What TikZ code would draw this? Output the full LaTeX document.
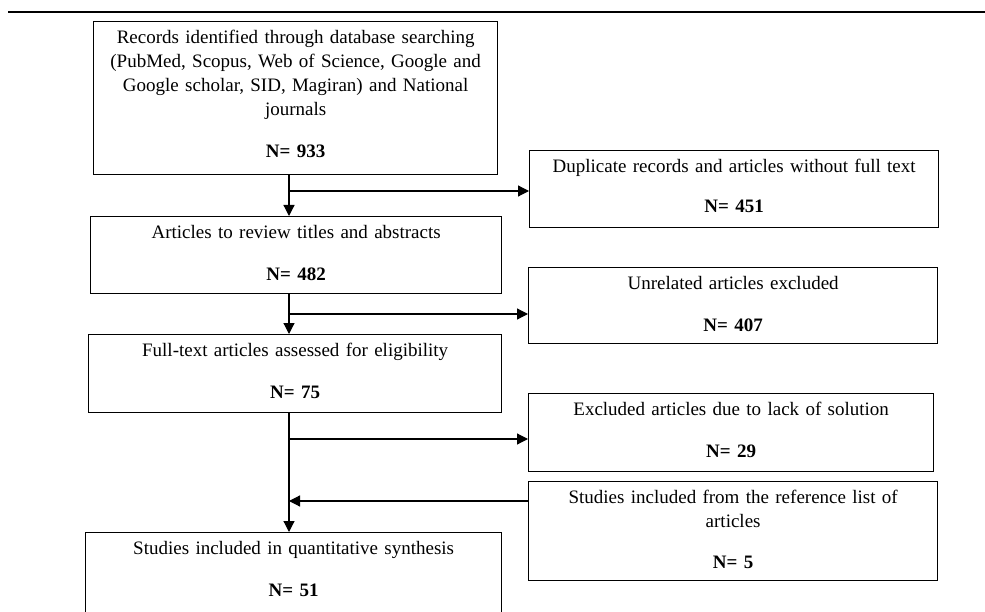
\documentclass[tikz,border=0pt]{standalone}
\usepackage{fontspec}
\setmainfont{Liberation Serif}
\usetikzlibrary{arrows.meta}

\tikzset{
  flowbox/.style={draw, line width=1.3pt, anchor=north west,
    inner xsep=0pt, inner ysep=0pt, align=center, text height=22pt,
    font=\fontsize{19}{24}\selectfont},
  flowline/.style={line width=1.2pt},
  flowarrow/.style={flowline, -{Triangle[length=11pt,width=11pt]}}
}

\begin{document}
\begin{tikzpicture}[x=1pt,y=-1pt]
  \useasboundingbox (0,0) rectangle (985,612);
  % rule at the top
  \draw[line width=2pt] (8,12) -- (985,12);

  % main column
  \node[flowbox, text width=404pt, text depth=131pt] (records) at (93,21)
    {Records identified through database searching\\
     (PubMed, Scopus, Web of Science, Google and\\
     Google scholar, SID, Magiran) and National\\
     journals\\[18pt]
     \textbf{N= 933}};
  \node[flowbox, text width=411pt, text depth=55pt] (screen) at (90,216)
    {Articles to review titles and abstracts\\[18pt]
     \textbf{N= 482}};
  \node[flowbox, text width=413pt, text depth=56pt] (fulltext) at (88,334)
    {Full-text articles assessed for eligibility\\[18pt]
     \textbf{N= 75}};
  \node[flowbox, text width=416pt, text depth=78pt] (included) at (85,532)
    {Studies included in quantitative synthesis\\[18pt]
     \textbf{N= 51}};

  % side column
  \node[flowbox, text width=409pt, text depth=55pt] (duplicates) at (529,150)
    {Duplicate records and articles without full text\\[16pt]
     \textbf{N= 451}};
  \node[flowbox, text width=409pt, text depth=54pt] (unrelated) at (528,267)
    {Unrelated articles excluded\\[18pt]
     \textbf{N= 407}};
  \node[flowbox, text width=405pt, text depth=56pt] (nosolution) at (528,393)
    {Excluded articles due to lack of solution\\[18pt]
     \textbf{N= 29}};
  \node[flowbox, text width=409pt, text depth=77pt] (reflist) at (528,481)
    {Studies included from the reference list of\\
     articles\\[17pt]
     \textbf{N= 5}};

  % connectors
  \coordinate (trunk) at (289,0);
  \coordinate (split1) at (289,191);
  \coordinate (split2) at (289,314);
  \coordinate (split3) at (289,439);
  \coordinate (join) at (289,501);

  \draw[flowarrow] (records.south -| trunk) -- (screen.north -| trunk);
  \draw[flowarrow] (split1) -- (split1 -| duplicates.west);
  \draw[flowarrow] (screen.south -| trunk) -- (fulltext.north -| trunk);
  \draw[flowarrow] (split2) -- (split2 -| unrelated.west);
  \draw[flowarrow] (fulltext.south -| trunk) -- (included.north -| trunk);
  \draw[flowarrow] (split3) -- (split3 -| nosolution.west);
  \draw[flowarrow] (join -| reflist.west) -- (join);
\end{tikzpicture}
\end{document}
